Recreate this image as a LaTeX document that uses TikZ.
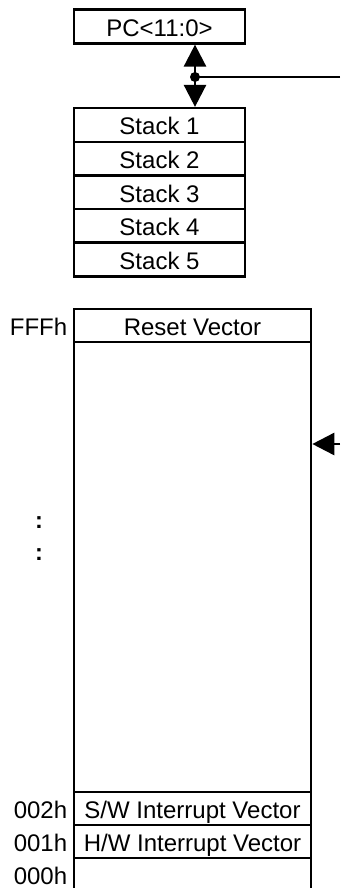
\documentclass[tikz,border=0pt]{standalone}
\usepackage{fontspec}
\setmainfont{Liberation Sans}
\usetikzlibrary{arrows.meta}

\begin{document}
\begin{tikzpicture}
  [x=1pt,y=-1pt,line width=2.6pt,
   every node/.style={inner sep=0pt,font=\fontsize{24}{28}\selectfont,text height=20pt,text depth=0pt},
   cell/.style={draw,minimum width=171pt,minimum height=33.6pt},
   memcell/.style={draw,minimum width=237pt,minimum height=33pt},
   addr/.style={anchor=east},
   arr/.style={-{Triangle[length=22pt,width=22pt]}}]
  \useasboundingbox (0,0) rectangle (340,888);
  % stack
  \node[cell] (pc) at (159.5,26.5) {PC<11:0>};
  \node[cell] (s1) at (159.5,125) {Stack 1};
  \node[cell] (s2) at (159.5,158.6) {Stack 2};
  \node[cell] (s3) at (159.5,192.2) {Stack 3};
  \node[cell] (s4) at (159.5,225.8) {Stack 4};
  \node[cell] (s5) at (159.5,259.4) {Stack 5};
  \coordinate (tap) at (195,77);
  \coordinate (pcin) at (340,77);
  % program memory
  \node[draw,minimum width=237pt,minimum height=582pt] (pmem) at (192.5,600) {};
  \node[memcell] (reset) at (192.5,325.5) {Reset Vector};
  \node[memcell] (swint) at (192.5,808.5) {S/W Interrupt Vector};
  \node[memcell] (hwint) at (192.5,841.5) {H/W Interrupt Vector};
  \node[addr] (afff) at (68.5,325.5) {FFFh};
  \node[addr] (a002) at (68.5,808.5) {002h};
  \node[addr] (a001) at (68.5,841.5) {001h};
  \node[addr] (a000) at (68.5,874.5) {000h};
  \node[anchor=base,font=\fontsize{23.5}{28}\selectfont\bfseries] (dots1) at (39,528.5) {:};
  \node[anchor=base,font=\fontsize{23.5}{28}\selectfont\bfseries] (dots2) at (39,560.5) {:};
  \coordinate (memin) at (340,444);
  \path[draw]
    (pcin) -- (tap)
    ;
  \draw[arr] (tap) -- (tap |- pc.south);
  \draw[arr] (tap) -- (tap |- s1.north);
  \fill (tap) circle (5pt);
  \draw[arr] (memin) -- (memin -| pmem.east);
\end{tikzpicture}
\end{document}
